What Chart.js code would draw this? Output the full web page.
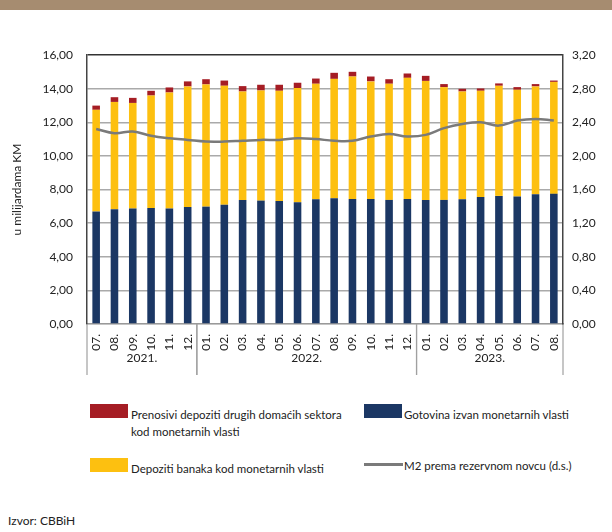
<!DOCTYPE html>
<html>
<head>
<meta charset="utf-8">
<script src="https://cdn.jsdelivr.net/npm/chart.js@4.4.0/dist/chart.umd.min.js"></script>
<style>
  body { margin: 0; background: #fff; font-family: Lato, sans-serif; color: #222; }
  #wrap { position: relative; width: 612px; height: 532px; overflow: hidden; }
  #band { position: absolute; left: 0; top: 0; width: 612px; height: 10px; background: #a68c70; }
  #chartBox { position: absolute; left: 0; top: 0; width: 612px; height: 390px; }
  .leg { position: absolute; font-size: 11.5px; line-height: 17px; }
  .sw { position: absolute; width: 38px; height: 14px; }
  .ln { position: absolute; width: 39px; height: 3px; background: #7a7a7a; }
  #izvor { position: absolute; left: 8px; top: 513px; font-size: 12px; }
</style>
</head>
<body>
<div id="wrap">
  <div id="band"></div>
  <div id="chartBox"><canvas id="c"></canvas></div>

  <div class="sw" style="left:90px;top:404px;background:#a51d24"></div>
  <div class="leg" style="left:131px;top:406px">Prenosivi depoziti drugih domaćih sektora<br>kod monetarnih vlasti</div>
  <div class="sw" style="left:364px;top:404px;background:#1b3764"></div>
  <div class="leg" style="left:404px;top:406px">Gotovina izvan monetarnih vlasti</div>
  <div class="sw" style="left:90px;top:458px;background:#fdc010"></div>
  <div class="leg" style="left:131px;top:460px">Depoziti banaka kod monetarnih vlasti</div>
  <div class="ln" style="left:364px;top:463px"></div>
  <div class="leg" style="left:404px;top:457px">M2 prema rezervnom novcu (d.s.)</div>

  <div id="izvor">Izvor: CBBiH</div>
</div>
<script>
const mjeseci = ['07.','08.','09.','10.','11.','12.',
  '01.','02.','03.','04.','05.','06.','07.','08.','09.','10.','11.','12.',
  '01.','02.','03.','04.','05.','06.','07.','08.'];
const godine = ['2021.', '2022.', '2023.'];
const godineBroj = [6, 12, 8];

// u milijardama KM
const gotovina = [6.69, 6.83, 6.87, 6.90, 6.87, 6.96, 6.98, 7.10, 7.38, 7.34, 7.32, 7.24, 7.42,
  7.48, 7.44, 7.44, 7.38, 7.44, 7.38, 7.38, 7.42, 7.56, 7.62, 7.58, 7.72, 7.74];
const depozitiBanaka = [6.05, 6.38, 6.28, 6.69, 6.90, 7.17, 7.27, 7.07, 6.45, 6.55, 6.55, 6.79, 6.87,
  7.10, 7.28, 6.99, 6.91, 7.20, 7.08, 6.71, 6.41, 6.31, 6.55, 6.35, 6.41, 6.66];
const prenosiviDepoziti = [0.25, 0.28, 0.30, 0.28, 0.30, 0.30, 0.31, 0.31, 0.32, 0.34, 0.36, 0.32, 0.31,
  0.36, 0.28, 0.29, 0.27, 0.26, 0.30, 0.18, 0.16, 0.14, 0.14, 0.16, 0.14, 0.08];
// desna skala
const m2Rezervni = [2.32, 2.27, 2.29, 2.24, 2.21, 2.19, 2.17, 2.17, 2.18, 2.19, 2.19, 2.21, 2.20,
  2.18, 2.18, 2.23, 2.26, 2.23, 2.25, 2.33, 2.38, 2.40, 2.36, 2.42, 2.44, 2.42];

const fmt = v => Number(v).toFixed(2).replace('.', ',');
const font = { family: 'Lato', size: 12 };

// year labels and separators under the month ticks
const godinePlugin = {
  id: 'godine',
  afterDraw(chart) {
    const ctx = chart.ctx;
    const x = chart.scales.x;
    const top = chart.chartArea.bottom;
    const half = (x.getPixelForValue(1) - x.getPixelForValue(0)) / 2;
    ctx.save();
    ctx.strokeStyle = '#a0a0a0';
    ctx.lineWidth = 1.2;
    ctx.fillStyle = '#222';
    ctx.font = '12px Lato';
    ctx.textAlign = 'center';
    ctx.textBaseline = 'middle';
    let start = 0;
    godine.forEach((g, i) => {
      const end = start + godineBroj[i] - 1;
      const x0 = x.getPixelForValue(start) - half;
      const x1 = x.getPixelForValue(end) + half;
      [x0, x1].forEach(px => {
        ctx.beginPath();
        ctx.moveTo(px, top);
        ctx.lineTo(px, top + 51);
        ctx.stroke();
      });
      ctx.fillText(g, (x0 + x1) / 2, top + 34);
      start = end + 1;
    });
    ctx.restore();
  }
};

new Chart(document.getElementById('c'), {
  data: {
    labels: mjeseci,
    datasets: [
      { type: 'line', label: 'M2 prema rezervnom novcu (d.s.)', data: m2Rezervni, yAxisID: 'y1',
        borderColor: '#7a7a7a', borderWidth: 2.5, tension: 0.4, pointRadius: 0, order: 0 },
      { type: 'bar', label: 'Gotovina izvan monetarnih vlasti', data: gotovina, yAxisID: 'y',
        backgroundColor: '#1b3764', order: 1 },
      { type: 'bar', label: 'Depoziti banaka kod monetarnih vlasti', data: depozitiBanaka, yAxisID: 'y',
        backgroundColor: '#fdc010', order: 1 },
      { type: 'bar', label: 'Prenosivi depoziti drugih domaćih sektora kod monetarnih vlasti',
        data: prenosiviDepoziti, yAxisID: 'y', backgroundColor: '#a51d24', order: 1 }
    ]
  },
  options: {
    responsive: true,
    maintainAspectRatio: false,
    animation: false,
    events: [],
    categoryPercentage: 0.9,
    barPercentage: 0.46,
    layout: { padding: { top: 55, left: 0, right: 0, bottom: 0 } },
    plugins: { legend: { display: false }, tooltip: { enabled: false } },
    scales: {
      x: {
        stacked: true,
        grid: { display: false },
        border: { display: true, color: '#999', width: 1.2 },
        ticks: { font, color: '#222', minRotation: 90, maxRotation: 90, padding: 2, autoSkip: false },
        afterFit: s => { s.height = 66; }
      },
      y: {
        stacked: true,
        position: 'left',
        min: 0, max: 16,
        grid: {
          color: c => c.tick && c.tick.value === 16 ? '#333' : '#aaaaaa',
          lineWidth: 1.5,
          drawTicks: false
        },
        border: { display: true, color: '#444', width: 1.5 },
        ticks: { stepSize: 2, font, color: '#222', padding: 14, callback: fmt },
        title: { display: true, text: 'u milijardama KM', font, color: '#222', padding: { top: 10, bottom: 0 } },
        afterFit: s => { s.width = 87; }
      },
      y1: {
        position: 'right',
        min: 0, max: 3.2,
        grid: { drawOnChartArea: false, drawTicks: false },
        border: { display: true, color: '#444', width: 1.5 },
        ticks: { stepSize: 0.4, font, color: '#222', padding: 9, callback: fmt },
        afterFit: s => { s.width = 49; }
      }
    }
  },
  plugins: [godinePlugin]
});
</script>
</body>
</html>
